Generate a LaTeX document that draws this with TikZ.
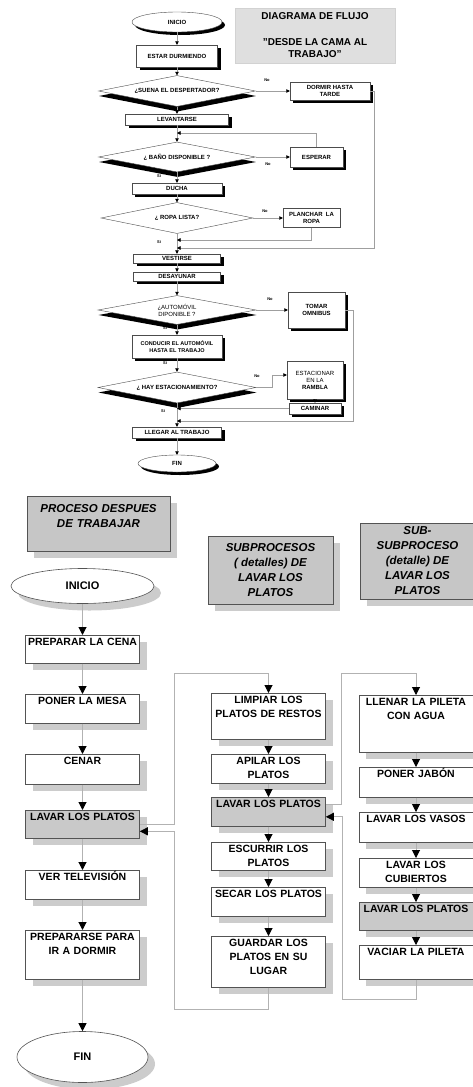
\documentclass[tikz,border=0pt]{standalone}
\usepackage{fontspec}
\setmainfont{Liberation Sans}
\usetikzlibrary{arrows.meta,shapes.geometric,shadows}

\begin{document}
\begin{tikzpicture}[x=1pt,y=1pt,
  % ---- estilos: diagrama de arriba
  cajab/.style={draw=gray!60!black,fill=white,line width=0.4pt,align=center,inner sep=0.5pt,
    font=\bfseries\fontsize{6}{7}\selectfont},
  caja/.style={cajab,drop shadow={shadow xshift=3pt,shadow yshift=-3pt,fill=black,opacity=1}},
  rombob/.style={diamond,aspect=5,draw=gray!60!black,fill=white,line width=0.4pt,inner sep=0pt,
    align=center,font=\bfseries\fontsize{6}{7}\selectfont},
  rombo/.style={rombob,drop shadow={shadow xshift=0.5pt,shadow yshift=-5pt,fill=black,opacity=1}},
  ovalo/.style={ellipse,draw=gray!60!black,fill=white,line width=0.4pt,inner sep=0pt,
    font=\bfseries\fontsize{6}{7}\selectfont,
    drop shadow={shadow xshift=3pt,shadow yshift=-3pt,fill=black,opacity=1}},
  linea/.style={draw=gray!75,line width=0.5pt,-{Triangle[color=black,width=3.5pt,length=3.5pt]}},
  rot/.style={font=\bfseries\fontsize{4}{5}\selectfont,inner sep=0pt},
  % ---- estilos: diagrama de abajo
  paso/.style={draw=gray!65!black,fill=white,line width=0.6pt,anchor=north,text width=110pt,
    align=center,inner xsep=2pt,inner ysep=2.5pt,text height=8pt,
    font=\bfseries\fontsize{10.5}{14}\selectfont,
    drop shadow={shadow xshift=7pt,shadow yshift=-7pt,fill=gray!40,opacity=1}},
  pasogris/.style={paso,fill=gray!42},
  ovalo2/.style={ellipse,draw=gray!65!black,fill=white,line width=0.6pt,
    font=\bfseries\fontsize{11}{14}\selectfont,
    drop shadow={shadow xshift=7pt,shadow yshift=-7pt,fill=gray!40,opacity=1}},
  titulo/.style={draw=gray!65!black,fill=gray!45,line width=0.6pt,align=center,
    font=\bfseries\itshape\fontsize{11.5}{15}\selectfont,
    drop shadow={shadow xshift=7pt,shadow yshift=-7pt,fill=gray!40,opacity=1}},
  flecha/.style={draw=gray!60,line width=1pt,-{Triangle[color=black,width=8pt,length=8pt]}}]

  \path[use as bounding box,fill=white] (0,0) rectangle (473,-1087);

  % ---------------- desde la cama al trabajo
  \node[fill=gray!25,draw=gray!35,minimum width=160pt,minimum height=55pt,align=center,
    font=\bfseries\fontsize{10}{12}\selectfont] (tit1) at (315,-35.5)
    {DIAGRAMA DE FLUJO\\[14pt]"DESDE LA CAMA AL\\TRABAJO"};

  \node[ovalo,minimum width=90pt,minimum height=20pt] (ini) at (177,-22) {INICIO};
  \node[caja,minimum width=81pt,minimum height=22pt] (estar) at (177,-56) {ESTAR DURMIENDO};
  \node[rombo,minimum width=157pt,minimum height=31pt] (desp) at (177,-91) {¿SUENA EL DESPERTADOR?};
  \node[caja,minimum width=80pt,minimum height=18pt] (dormir) at (330,-91) {DORMIR HASTA\\TARDE};
  \node[caja,minimum width=103pt,minimum height=11pt] (levant) at (177,-119.5) {LEVANTARSE};
  \node[rombo,minimum width=157pt,minimum height=30pt] (bano) at (177,-157) {¿ BAÑO DISPONIBLE ?};
  \node[caja,minimum width=53pt,minimum height=20pt] (esperar) at (316.5,-157) {ESPERAR};
  \node[caja,minimum width=90pt,minimum height=11pt] (ducha) at (177,-188.5) {DUCHA};
  \node[rombob,minimum width=152pt,minimum height=31pt] (ropa) at (177,-218) {¿ ROPA LISTA?};
  \node[cajab,minimum width=57pt,minimum height=19pt] (planch) at (311.5,-218) {PLANCHAR\ \ LA\\ROPA};
  \node[caja,minimum width=87pt,minimum height=9pt] (vest) at (177,-258.5) {VESTIRSE};
  \node[caja,minimum width=87pt,minimum height=9pt] (desay) at (177,-276.5) {DESAYUNAR};
  \node[rombo,minimum width=158pt,minimum height=29pt,font=\fontsize{6}{7}\selectfont] (auto) at (177,-310)
    {¿AUTOMÓVIL\\DIPONIBLE ?};
  \node[caja,minimum width=57pt,minimum height=36pt] (tomar) at (316.5,-310) {TOMAR\\OMNIBUS};
  \node[caja,minimum width=90pt,minimum height=23pt,font=\bfseries\fontsize{5.5}{7}\selectfont] (cond)
    at (177,-346.5) {CONDUCIR EL AUTOMÓVIL\\HASTA EL TRABAJO};
  \node[rombo,minimum width=158pt,minimum height=31pt] (hay) at (177,-387.5) {¿ HAY ESTACIONAMIENTO?};
  \node[caja,minimum width=56pt,minimum height=38pt] (estac) at (315,-380)
    {{\mdseries ESTACIONAR}\\{\mdseries EN LA}\\RAMBLA};
  \node[caja,minimum width=52pt,minimum height=11pt] (cam) at (315,-408.5) {CAMINAR};
  \node[caja,minimum width=89pt,minimum height=11pt] (lleg) at (177,-432.5) {LLEGAR AL TRABAJO};
  \node[ovalo,minimum width=78pt,minimum height=17pt] (fin) at (177,-463.5) {FIN};

  \node[rot] (n1) at (267,-80) {No};
  \node[rot] (n2) at (268,-164) {No};
  \node[rot] (s2) at (159,-176) {Si};
  \node[rot] (n3) at (265,-211) {No};
  \node[rot] (s3) at (159,-242) {Si};
  \node[rot] (n4) at (270,-299) {No};
  \node[rot] (s4) at (165,-328) {Si};
  \node[rot] (s5) at (165,-363) {Si};
  \node[rot] (n5) at (257,-376) {No};
  \node[rot] (s6) at (163,-411) {Si};

  \coordinate (v0) at (177,-133);
  \coordinate (v1) at (177,-240);
  \coordinate (v2) at (177,-248);
  \coordinate (v3) at (177,-408.5);
  \coordinate (v4) at (177,-421);

  \draw[linea] (ini) -- (estar);
  \draw[linea] (estar) -- (desp);
  \draw[linea] (desp) -- (dormir);
  \draw[linea] (desp) -- (levant);
  \draw[linea] (levant) -- (bano);
  \draw[linea] (bano) -- (esperar);
  \draw[linea] (bano) -- (ducha);
  \draw[linea] (ducha) -- (ropa);
  \draw[linea] (ropa) -- (planch);
  \draw[linea] (ropa) -- (vest);
  \draw[linea] (vest) -- (desay);
  \draw[linea] (desay) -- (auto);
  \draw[linea] (auto) -- (tomar);
  \draw[linea] (auto) -- (cond);
  \draw[linea] (cond) -- (hay);
  \draw[linea] (hay.east) -- ++(16,0) |- ([yshift=5pt]estac.west);
  \draw[linea] (estac) -- (cam);
  \draw[linea] (hay) -- (lleg);
  \draw[linea] (lleg) -- (fin);
  % vueltas a la linea principal
  \draw[linea] (esperar.north) |- (v0);
  \draw[linea] (planch.south) |- (v1);
  \draw[linea] (dormir.east) -- ++(4,0) |- (v2);
  \draw[linea] (cam.west) -- (v3);
  \draw[linea] (tomar.east) -- ++(8,0) |- (v4);

  % ---------------- proceso despues de trabajar
  \node[titulo,anchor=north,text width=133pt,inner xsep=5pt,inner ysep=6pt,text height=10pt,
    text depth=33pt] (tit2) at (98.5,-496) {PROCESO DESPUES\\DE TRABAJAR};
  \node[titulo,minimum width=125pt,minimum height=68pt] (tit3) at (270.5,-570)
    {SUBPROCESOS\\( detalles) DE\\LAVAR LOS\\PLATOS};
  \node[titulo,minimum width=115pt,minimum height=76pt] (tit4) at (417.5,-561)
    {SUB-\\SUBPROCESO\\(detalle) DE\\LAVAR LOS\\PLATOS};

  \node[ovalo2,minimum width=143pt,minimum height=35pt] (ini2) at (82.5,-586) {INICIO};
  \node[paso,text depth=15pt] (prep) at (82.5,-635) {PREPARAR LA CENA};
  \node[paso,text depth=16pt] (poner) at (82.5,-694) {PONER LA MESA};
  \node[paso,text depth=17pt] (cenar) at (82.5,-754) {CENAR};
  \node[pasogris,text depth=15pt] (lavar) at (82.5,-810) {LAVAR LOS PLATOS};
  \node[paso,text depth=16pt] (vertv) at (82.5,-870) {VER TELEVISIÓN};
  \node[paso,text depth=36pt] (prepd) at (82.5,-930) {PREPARARSE PARA\\IR A DORMIR};
  \node[ovalo2,minimum width=131pt,minimum height=51pt] (fin2) at (82.5,-1057) {FIN};

  % subprocesos
  \node[paso,text depth=33pt] (limp) at (268.5,-693) {LIMPIAR LOS\\PLATOS DE RESTOS};
  \node[paso,text depth=16pt] (apil) at (268.5,-754) {APILAR LOS\\PLATOS};
  \node[pasogris,text depth=16pt] (lavar2) at (268.5,-797) {LAVAR LOS PLATOS};
  \node[paso,text depth=15pt] (escur) at (268.5,-842) {ESCURRIR LOS\\PLATOS};
  \node[paso,text depth=16pt] (secar) at (268.5,-887) {SECAR LOS PLATOS};
  \node[paso,text depth=38pt] (guard) at (268.5,-936) {GUARDAR LOS\\PLATOS EN SU\\LUGAR};

  % sub-subproceso
  \node[paso,text depth=44pt] (llenar) at (416,-695) {LLENAR LA PILETA\\CON AGUA};
  \node[paso,text depth=17pt] (jabon) at (416,-767) {PONER JABÓN};
  \node[paso,text depth=17pt] (vasos) at (416,-812) {LAVAR LOS VASOS};
  \node[paso,text depth=16pt] (cubi) at (416,-858) {LAVAR LOS\\CUBIERTOS};
  \node[pasogris,text depth=15pt] (lavar3) at (416,-902) {LAVAR LOS PLATOS};
  \node[paso,text depth=21pt] (vaciar) at (416,-945) {VACIAR LA PILETA};

  \coordinate (r1) at (174,-1009);
  \coordinate (r2) at (342,-999);

  \draw[flecha] (ini2) -- (prep);
  \draw[flecha] (prep) -- (poner);
  \draw[flecha] (poner) -- (cenar);
  \draw[flecha] (cenar) -- (lavar);
  \draw[flecha] (lavar) -- (vertv);
  \draw[flecha] (vertv) -- (prepd);
  \draw[flecha] (prepd) -- (fin2);
  \draw[flecha] (limp) -- (apil);
  \draw[flecha] (apil) -- (lavar2);
  \draw[flecha] (lavar2) -- (escur);
  \draw[flecha] (escur) -- (secar);
  \draw[flecha] (secar) -- (guard);
  \draw[flecha] (llenar) -- (jabon);
  \draw[flecha] (jabon) -- (vasos);
  \draw[flecha] (vasos) -- (cubi);
  \draw[flecha] (cubi) -- (lavar3);
  \draw[flecha] (lavar3) -- (vaciar);
  % entradas y vueltas de los subprocesos
  \draw[flecha] (lavar.east) -- ++(35,0) |- ([yshift=20pt]limp.north) -- (limp.north);
  \draw[flecha] (guard.south) |- (r1) |- ([yshift=-7pt]lavar.east);
  \draw[flecha] ([yshift=7.5pt]lavar2.east) -- ++(16,0) |- ([yshift=22pt]llenar.north) -- (llenar.north);
  \draw[flecha] (vaciar.south) |- (r2) |- ([yshift=-5pt]lavar2.east);
\end{tikzpicture}
\end{document}
